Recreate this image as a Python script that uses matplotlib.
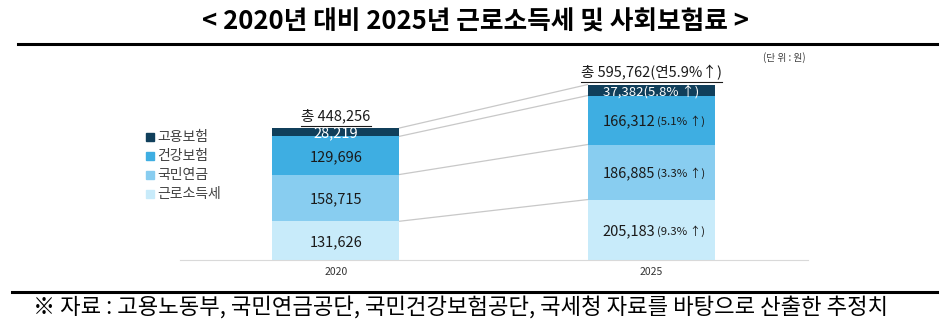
import matplotlib.pyplot as plt
from matplotlib.lines import Line2D

plt.rcParams['font.family'] = ['Noto Sans CJK KR', 'DejaVu Sans']

years = ['2020', '2025']
series = ['근로소득세', '국민연금', '건강보험', '고용보험']
vals_2020 = [131626, 158715, 129696, 28219]
vals_2025 = [205183, 186885, 166312, 37382]
growth = ['9.3%', '3.3%', '5.1%', '5.8%']
total_growth = '5.9%'
colors = ['#c8ebfa', '#88cdf0', '#3eaee2', '#103f5b']

fig = plt.figure(figsize=(9.51, 3.25), dpi=100)
W, H = 951, 325


def fx(px):
    return px / W


def fy(py):
    return 1 - py / H


# axes: x 180..808 px, baseline at y=260, top at y=50
ax = fig.add_axes([fx(180), fy(260), fx(808) - fx(180), fy(50) - fy(260)])
ymax = sum(vals_2020) * 210 / 132
ax.set_ylim(0, ymax)
ax.set_xlim(-0.495, 1.498)
bw = 0.403

bottoms = [0, 0]
tops_2020, tops_2025 = [], []
for i, name in enumerate(series):
    ax.bar([0, 1], [vals_2020[i], vals_2025[i]], bw, bottom=bottoms,
           color=colors[i], linewidth=0, zorder=2)
    bottoms = [bottoms[0] + vals_2020[i], bottoms[1] + vals_2025[i]]
    tops_2020.append(bottoms[0])
    tops_2025.append(bottoms[1])

# connector lines
for a, b in zip(tops_2020, tops_2025):
    ax.plot([bw / 2, 1 - bw / 2], [a, b], color='#c8c8c8', linewidth=0.9, zorder=1)

# labels inside bars
b0, b1 = 0, 0
for i in range(len(series)):
    m0 = b0 + vals_2020[i] / 2
    m1 = b1 + vals_2025[i] / 2
    tc = 'white' if i == 3 else '#1a1a1a'
    ax.text(0, m0, f'{vals_2020[i]:,}', ha='center', va='center_baseline', fontsize=10.5,
            color=tc, zorder=3)
    if i == 3:
        ax.text(1, m1, f'{vals_2025[i]:,}({growth[i]} ↑)', ha='center', va='center_baseline',
                fontsize=9.5, color=tc, zorder=3)
    else:
        ax.text(1.013, m1, f'{vals_2025[i]:,}', ha='right', va='center_baseline', fontsize=10.5,
                color=tc, zorder=3)
        ax.text(1.02, m1, f'({growth[i]} ↑)', ha='left', va='center_baseline', fontsize=8.2,
                color=tc, zorder=3)
    b0 += vals_2020[i]
    b1 += vals_2025[i]

# totals with underline
t0 = ax.annotate(f'총 {b0:,}', (0, b0), xytext=(0, 3.5), textcoords='offset points',
                 ha='center', va='bottom', fontsize=10.5, color='#1a1a1a')
t1 = ax.annotate(f'총 {b1:,}(연{total_growth}↑)', (1, b1), xytext=(0, 3.5),
                 textcoords='offset points', ha='center', va='bottom', fontsize=10.5,
                 color='#1a1a1a')
fig.canvas.draw()
r = fig.canvas.get_renderer()
for t, top in [(t0, b0), (t1, b1)]:
    bb = t.get_window_extent(r)
    x0, _ = ax.transData.inverted().transform((bb.x0, 0))
    x1, _ = ax.transData.inverted().transform((bb.x1, 0))
    ax.plot([x0, x1], [top + 8000, top + 8000], color='#1a1a1a', linewidth=0.8)

for s in ['top', 'right', 'left']:
    ax.spines[s].set_visible(False)
ax.spines['bottom'].set_color('#d9d9d9')
ax.set_yticks([])
ax.set_xticks([0, 1])
ax.set_xticklabels(years, fontsize=7.5, color='#333333')
ax.tick_params(axis='x', length=0, pad=5)

# legend
for k, name in enumerate(reversed(series)):
    y = 137 + k * 19
    ci = len(series) - 1 - k
    fig.patches.append(plt.Rectangle((fx(146), fy(y + 4)), fx(8), fy(0) - fy(8),
                                     transform=fig.transFigure, color=colors[ci]))
    fig.text(fx(157), fy(y), name, ha='left', va='center', fontsize=10, color='#404040')

fig.text(fx(806), fy(58), '(단 위 : 원)', ha='right', va='center', fontsize=7, color='#404040')

# title and rules
fig.text(0.5, fy(22), '< 2020년 대비 2025년 근로소득세 및 사회보험료 >', ha='center',
         va='center', fontsize=18.5, fontweight='bold', color='black')
fig.lines.append(Line2D([fx(18), fx(937)], [fy(44), fy(44)], transform=fig.transFigure,
                        color='black', linewidth=2.2))
fig.lines.append(Line2D([fx(12), fx(937)], [fy(292), fy(292)], transform=fig.transFigure,
                        color='black', linewidth=2.2))
fig.text(fx(33), fy(307), '※ 자료 : 고용노동부, 국민연금공단, 국민건강보험공단, 국세청 자료를 바탕으로 산출한 추정치',
         ha='left', va='center', fontsize=16, color='black')

fig.savefig('out.png', dpi=100)
